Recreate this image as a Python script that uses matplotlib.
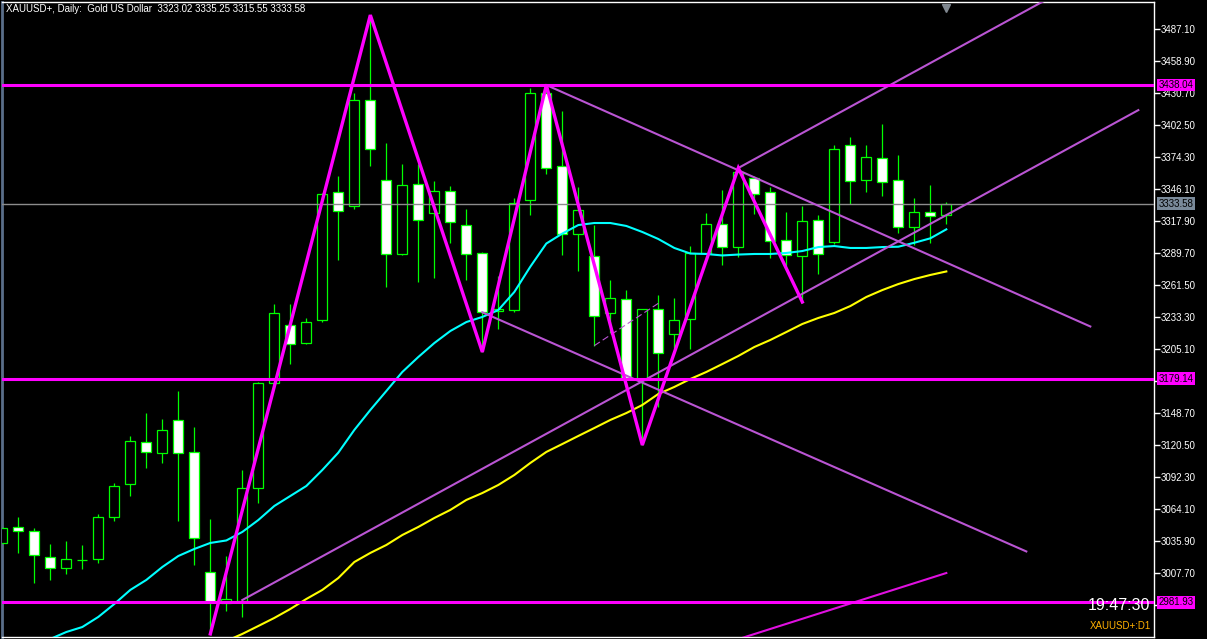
import numpy as np
import matplotlib.pyplot as plt
import matplotlib.transforms as mtransforms

# daily candles, index -1 is the half hidden one at the left edge
idx = np.arange(-1, 59)
opens = [3034.4, 3048.2, 3044.7, 3021.8, 3012.1, 3019.1, 3020.0, 3057.0, 3086.1, 3123.1,
         3113.4, 3142.5, 3114.3, 3008.6, 2981.5, 2983.3, 3082.4, 3175.1, 3226.3, 3210.4,
         3231.3, 3343.3, 3331.7, 3424.4, 3354.0, 3288.8, 3350.5, 3324.9, 3344.3, 3314.4,
         3289.7, 3238.6, 3239.5, 3336.4, 3430.7, 3366.4, 3306.4, 3287.0, 3236.8, 3249.2,
         3178.0, 3240.3, 3218.3, 3231.5, 3289.7, 3315.2, 3295.0, 3355.8, 3343.5, 3301.1,
         3287.0, 3318.8, 3299.4, 3384.9, 3354.0, 3373.4, 3354.0, 3312.6, 3325.8, 3323.02]
highs = [3049.4, 3057.6, 3047.6, 3033.5, 3036.1, 3032.6, 3059.9, 3087.3, 3128.7, 3148.9,
         3143.7, 3168.3, 3136.6, 3055.5, 3022.9, 3098.7, 3176.0, 3245.3, 3245.3, 3232.8,
         3343.0, 3357.6, 3430.8, 3499.7, 3386.9, 3368.4, 3368.4, 3353.4, 3349.0, 3328.5,
         3290.6, 3269.7, 3338.2, 3435.1, 3438.0, 3414.8, 3347.9, 3314.6, 3266.2, 3257.3,
         3240.3, 3252.7, 3250.0, 3295.9, 3324.9, 3345.5, 3364.9, 3357.4, 3348.4, 3325.8,
         3331.1, 3323.2, 3384.9, 3391.9, 3384.9, 3403.4, 3376.1, 3338.2, 3349.6, 3335.25]
lows = [3032.6, 3025.8, 2999.4, 3002.0, 3007.3, 3011.7, 3017.0, 3054.0, 3076.1, 3100.7,
        3105.1, 3054.0, 3015.3, 2954.2, 2974.5, 2969.2, 3070.0, 3174.5, 3192.4, 3209.4,
        3229.1, 3283.8, 3328.7, 3366.9, 3260.3, 3288.0, 3264.7, 3268.2, 3299.0, 3266.4,
        3202.7, 3222.7, 3237.7, 3323.2, 3360.0, 3288.6, 3274.5, 3208.3, 3219.5, 3178.0,
        3120.7, 3154.0, 3205.1, 3205.1, 3289.0, 3279.1, 3286.7, 3324.3, 3285.3, 3277.6,
        3245.6, 3271.2, 3297.6, 3332.9, 3343.5, 3339.9, 3307.3, 3297.0, 3298.5, 3315.55]
closes = [3047.6, 3044.7, 3023.5, 3012.1, 3020.0, 3019.3, 3057.3, 3084.3, 3124.0, 3114.3,
          3133.7, 3113.4, 3038.5, 2982.6, 2985.0, 3082.4, 3175.1, 3237.1, 3209.8, 3229.0,
          3342.4, 3327.4, 3424.4, 3381.2, 3288.8, 3349.6, 3318.8, 3344.3, 3317.0, 3288.8,
          3237.7, 3240.3, 3333.8, 3430.7, 3364.6, 3306.4, 3327.6, 3234.2, 3250.0, 3180.1,
          3240.3, 3201.6, 3230.6, 3289.7, 3315.2, 3295.0, 3361.3, 3341.7, 3300.3, 3287.9,
          3317.9, 3288.8, 3381.3, 3353.1, 3374.3, 3352.3, 3312.6, 3325.8, 3322.3, 3333.58]

# moving averages (cyan from bar 2, yellow from bar 13)
ma_fast_idx = np.arange(2, 59)
ma_fast = [2949.8, 2955.9, 2960.3, 2969.2, 2980.6, 2993.0, 3001.8, 3013.2, 3022.9, 3029.1,
           3034.4, 3036.6, 3044.1, 3054.6, 3067.0, 3075.8, 3084.6, 3098.7, 3114.0, 3134.0,
           3151.6, 3168.3, 3185.1, 3198.3, 3210.6, 3221.2, 3229.1, 3233.6, 3239.7, 3255.6,
           3277.9, 3298.3, 3307.1, 3314.6, 3316.4, 3316.4, 3313.8, 3308.5, 3302.3, 3294.4,
           3289.5, 3289.1, 3287.8, 3288.6, 3289.1, 3289.1, 3290.0, 3291.7, 3295.2, 3296.1,
           3294.4, 3294.4, 3295.2, 3295.5, 3299.0, 3302.9, 3310.8]
ma_slow_idx = np.arange(13, 59)
ma_slow = [2948.0, 2954.2, 2961.2, 2968.3, 2976.2, 2985.0, 2993.0, 3003.5, 3017.6, 3025.6,
           3032.6, 3041.4, 3048.5, 3056.4, 3063.5, 3072.3, 3078.4, 3085.5, 3094.3, 3104.9,
           3114.6, 3121.6, 3128.7, 3135.7, 3142.8, 3148.9, 3156.0, 3165.7, 3171.9, 3178.9,
           3185.1, 3192.1, 3199.2, 3207.1, 3213.3, 3220.3, 3227.4, 3232.7, 3237.1, 3243.2,
           3251.2, 3257.3, 3262.6, 3267.0, 3270.6, 3273.7]

# zigzag
zz_idx = [12, 22, 29, 33, 39, 45, 49]
zz_price = [2954.2, 3499.7, 3202.7, 3438.0, 3120.7, 3364.9, 3246.8]

# horizontal levels and current price
levels = [3438.04, 3179.14, 2981.93]
last_price = 3333.58

# trend lines: (start bar, start price, end bar, end price)
trend_lines = [(14, 2984.1, 70, 3415.9),
               (45, 3364.9, 70, 3557.6),
               (33, 3438.0, 67, 3225.2),
               (29, 3237.7, 63, 3026.9)]
pink_line = (40, 2927.2, 58, 3007.9)
dotted_line = (36, 3208.3, 40, 3245.6)

ytick_vals = [3487.10, 3458.90, 3430.70, 3402.50, 3374.30, 3346.10, 3317.90, 3289.70,
              3261.50, 3233.30, 3205.10, 3176.90, 3148.70, 3120.50, 3092.30, 3064.10,
              3035.90, 3007.70, 2979.50]
# these two sit under the level labels on the scale
hidden_ticks = [3176.90, 2979.50]

title = "XAUUSD+, Daily:  Gold US Dollar  3323.02 3335.25 3315.55 3333.58"

plt.rcParams['font.family'] = ['Liberation Sans', 'DejaVu Sans']

W, H = 1207, 639
fig = plt.figure(figsize=(W / 100, H / 100), dpi=100, facecolor='black')
ax = fig.add_axes([2 / W, 2 / H, 1152 / W, 635 / H], facecolor='black')
ax.set_xlim(-1.02, 70.98)
ax.set_ylim(2951.5, 3511.2)

# candles
lime = '#00ff00'
body_w = 0.62
for i, o, h, l, c in zip(idx, opens, highs, lows, closes):
    ax.vlines(i, l, h, color=lime, lw=0.9, zorder=2)
    bull = c >= o
    ax.bar(i, abs(c - o), bottom=min(o, c), width=body_w,
           color='black' if bull else 'white', edgecolor=lime, linewidth=0.9, zorder=3)

# moving averages
ax.plot(ma_fast_idx, ma_fast, color='#00ffff', lw=1.5, zorder=4)
ax.plot(ma_slow_idx, ma_slow, color='#ffff00', lw=1.5, zorder=4)

# trend lines
violet = '#ba55d3'
for x0, y0, x1, y1 in trend_lines:
    ax.plot([x0, x1], [y0, y1], color=violet, lw=1.5, zorder=5)
ax.plot(pink_line[::2], pink_line[1::2], color='#e010e0', lw=1.5, zorder=5)
ax.plot(dotted_line[::2], dotted_line[1::2], color=violet, lw=0.8, ls=(0, (6, 3)), zorder=5)

# levels
ax.axhline(last_price, color='#8c8c8c', lw=1, zorder=4)
for lv in levels:
    ax.axhline(lv, color='#ff00ff', lw=2.2, zorder=6)

# zigzag
ax.plot(zz_idx, zz_price, color='#ff00ff', lw=2.4, zorder=7, solid_joinstyle='miter')

# axes styling
for s in ['top', 'bottom', 'right']:
    ax.spines[s].set_color('white')
    ax.spines[s].set_linewidth(1)
ax.spines['left'].set_color('#5a6e8a')
ax.spines['left'].set_linewidth(2)
ax.set_xticks([])
ax.yaxis.tick_right()
ax.set_yticks(ytick_vals)
ax.set_yticklabels(['' if v in hidden_ticks else '%.2f' % v for v in ytick_vals])
ax.tick_params(axis='y', colors='white', length=4, width=1, direction='out',
               labelsize=7, pad=1)

# price labels on the scale
tr = mtransforms.blended_transform_factory(ax.transAxes, ax.transData)
for lv in levels:
    ax.text(1.004, lv, '%.2f' % lv, transform=tr, va='center', ha='left', fontsize=7,
            color='black', zorder=10, clip_on=False,
            bbox=dict(boxstyle='square,pad=0.15', fc='#ff00ff', ec='none'))
ax.text(1.004, last_price, '%.2f' % last_price, transform=tr, va='center', ha='left',
        fontsize=7, color='black', zorder=10, clip_on=False,
        bbox=dict(boxstyle='square,pad=0.15', fc='#7a8a9a', ec='none'))

# shift marker
tr2 = mtransforms.blended_transform_factory(ax.transData, ax.transAxes)
ax.plot(58, 0.99, marker='v', color='#808890', markersize=6, transform=tr2,
        clip_on=False, zorder=10)

# texts
fig.text(6 / W, 1 - 9 / H, title, color='white', fontsize=7, va='center', ha='left')
fig.text(1150 / W, 1 - 606 / H, '19:47:30', color='white', fontsize=11.5,
         va='center', ha='right')
fig.text(1151 / W, 1 - 626 / H, 'XAUUSD+:D1', color='#ffb000', fontsize=7,
         va='center', ha='right')

fig.savefig('out.png', dpi=100, facecolor='black')
